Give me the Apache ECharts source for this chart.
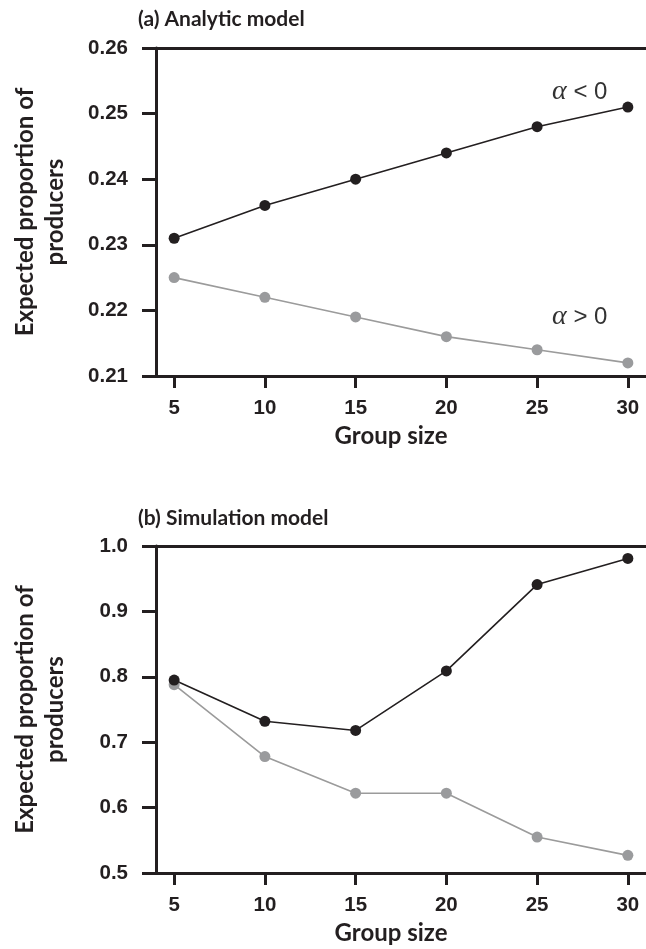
<!DOCTYPE html>
<html>
<head>
<meta charset="utf-8">
<script src="https://cdn.jsdelivr.net/npm/echarts@6/dist/echarts.min.js"></script>
<style>
html,body{margin:0;padding:0;background:#fff;}
#chart{width:646px;height:949px;}
</style>
</head>
<body>
<div id="chart"></div>
<script>
// ---- data ----
const groupSizes = [5, 10, 15, 20, 25, 30];
const xTicks = [5, 10, 15, 20, 25, 30];
const analyticNeg = [0.231, 0.236, 0.240, 0.244, 0.248, 0.251];   // alpha < 0
const analyticPos = [0.225, 0.222, 0.219, 0.216, 0.214, 0.212];   // alpha > 0
const simNeg = [0.795, 0.732, 0.718, 0.809, 0.941, 0.981];
const simPos = [0.788, 0.678, 0.622, 0.622, 0.555, 0.527];
const yTicksA = [0.21, 0.22, 0.23, 0.24, 0.25, 0.26];
const yTicksB = [0.5, 0.6, 0.7, 0.8, 0.9, 1.0];
const titleA = '(a) Analytic model';
const titleB = '(b) Simulation model';
const yName = 'Expected proportion of\nproducers';
const xName = 'Group size';

const dark = '#231f20';
const gray = '#9a9b9d';
const tickFont = {fontFamily: 'Liberation Sans', fontWeight: 'bold', fontSize: 20.5, color: dark};
const nameFont = {fontFamily: 'Lato', fontWeight: 'bold', fontSize: 24, color: dark};

function pairs(xs, ys){ return xs.map((x,i)=>[x, ys[i]]); }

function xAxisDef(gi){
  return {
    type: 'value', gridIndex: gi, min: 4, max: 31,
    name: xName, nameLocation: 'middle', nameGap: 48,
    nameTextStyle: Object.assign({}, nameFont, {padding: [0, 20, 0, 0]}),
    axisLine: {show: true, onZero: false, lineStyle: {color: dark, width: 3}},
    axisTick: {show: true, length: 12, lineStyle: {color: dark, width: 3}, customValues: xTicks},
    axisLabel: Object.assign({}, tickFont, {margin: 22, customValues: xTicks}),
    splitLine: {show: false}
  };
}
function topAxisDef(gi){
  return {
    type: 'value', gridIndex: gi, min: 4, max: 31, position: 'top',
    axisLine: {show: true, onZero: false, lineStyle: {color: dark, width: 3}},
    axisTick: {show: false}, axisLabel: {show: false}, splitLine: {show: false}
  };
}
function yAxisDef(gi, min, max, interval, dec){
  return {
    type: 'value', gridIndex: gi, min: min, max: max, interval: interval,
    name: yName, nameLocation: 'middle', nameGap: 86, nameRotate: 90,
    nameTextStyle: Object.assign({}, nameFont, {lineHeight: 30}),
    axisLine: {show: true, onZero: false, lineStyle: {color: dark, width: 3}},
    axisTick: {show: true, length: 14, lineStyle: {color: dark, width: 3}},
    axisLabel: Object.assign({}, tickFont, {margin: 28, formatter: v => v.toFixed(dec)}),
    splitLine: {show: false}
  };
}
function lineSeries(xi, yi, data, color, markerColor){
  return {
    type: 'line', xAxisIndex: xi, yAxisIndex: yi, data: data,
    symbol: 'circle', symbolSize: 11, showSymbol: true,
    lineStyle: {color: color, width: 1.6},
    itemStyle: {color: markerColor},
    emphasis: {disabled: true}, animation: false, z: 3
  };
}

const chart = echarts.init(document.getElementById('chart'), null, {renderer: 'canvas'});
const option = {
  animation: false,
  backgroundColor: '#fff',
  title: [
    {text: titleA, left: 133, top: 4, textStyle: {fontFamily: 'Lato', fontWeight: 'bold', fontSize: 21, color: dark}},
    {text: titleB, left: 133, top: 503, textStyle: {fontFamily: 'Lato', fontWeight: 'bold', fontSize: 21, color: dark}}
  ],
  grid: [
    {left: 156, right: 0, top: 48, height: 328},
    {left: 156, right: 0, top: 546, height: 327}
  ],
  xAxis: [xAxisDef(0), xAxisDef(1), topAxisDef(0), topAxisDef(1)],
  yAxis: [yAxisDef(0, 0.21, 0.26, 0.01, 2), yAxisDef(1, 0.5, 1.0, 0.1, 1)],
  series: [
    lineSeries(0, 0, pairs(groupSizes, analyticPos), '#9b9b9b', gray),
    lineSeries(0, 0, pairs(groupSizes, analyticNeg), dark, dark),
    lineSeries(1, 1, pairs(groupSizes, simPos), '#9b9b9b', gray),
    lineSeries(1, 1, pairs(groupSizes, simNeg), dark, dark)
  ]
};
chart.setOption(option);

// annotations in data coordinates
const annotations = [
  {coord: [27.35, 0.2533], sign: '<'},
  {coord: [27.35, 0.2190], sign: '>'}
];
const g = annotations.map(a => {
  const p = chart.convertToPixel({gridIndex: 0}, a.coord);
  return {
    type: 'text', x: p[0], y: p[1],
    style: {
      text: '{a|α}{b| ' + a.sign + ' 0}',
      align: 'center', verticalAlign: 'middle',
      rich: {
        a: {fontFamily: 'Liberation Serif', fontStyle: 'italic', fontSize: 28, fill: '#333'},
        b: {fontFamily: 'Liberation Sans', fontSize: 24, fill: '#333'}
      }
    }
  };
});
chart.setOption({graphic: g});
</script>
</body>
</html>
